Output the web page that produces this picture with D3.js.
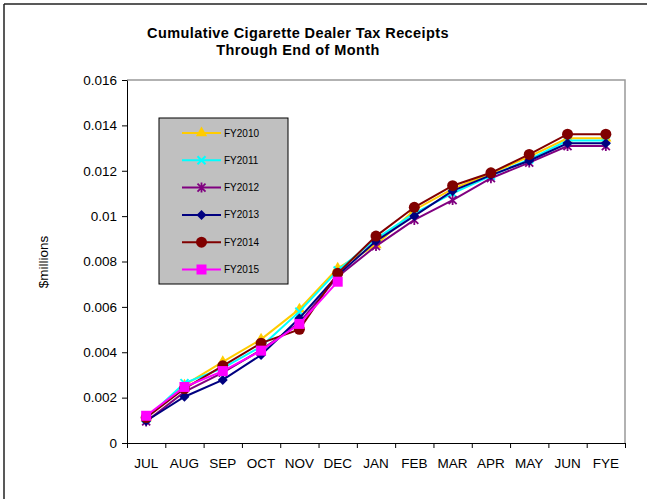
<!DOCTYPE html>
<html>
<head>
<meta charset="utf-8">
<script src="https://cdn.jsdelivr.net/npm/d3@7"></script>
<style>
  body { margin: 0; background: #fff; }
  text { font-family: Arial, "Liberation Sans", sans-serif; }
</style>
</head>
<body>
<script>
// values, $millions, cumulative
var months = ['JUL','AUG','SEP','OCT','NOV','DEC','JAN','FEB','MAR','APR','MAY','JUN','FYE'];
var yTicks = [0, 0.002, 0.004, 0.006, 0.008, 0.01, 0.012, 0.014, 0.016];
var yTickLabels = ['0','0.002','0.004','0.006','0.008','0.01','0.012','0.014','0.016'];

var fy2010 = [0.00110, 0.00255, 0.00358, 0.00457, 0.00590, 0.00770, 0.00873, 0.01027, 0.01120, 0.01188, 0.01262, 0.01343, 0.01343];
var fy2011 = [0.00108, 0.00264, 0.00330, 0.00425, 0.00579, 0.00760, 0.00900, 0.01012, 0.01100, 0.01178, 0.01250, 0.01333, 0.01333];
var fy2012 = [0.00095, 0.00225, 0.00310, 0.00410, 0.00530, 0.00733, 0.00868, 0.00983, 0.01071, 0.01167, 0.01236, 0.01309, 0.01309];
var fy2013 = [0.00097, 0.00204, 0.00278, 0.00388, 0.00550, 0.00740, 0.00890, 0.01001, 0.01111, 0.01181, 0.01244, 0.01321, 0.01321];
var fy2014 = [0.00112, 0.00240, 0.00340, 0.00440, 0.00501, 0.00748, 0.00912, 0.01039, 0.01134, 0.01191, 0.01272, 0.01361, 0.01361];
var fy2015 = [0.00120, 0.00247, 0.00317, 0.00407, 0.00525, 0.00711];

var series = [
  {name: 'FY2010', values: fy2010, color: '#FFCC00', marker: 'triangle'},
  {name: 'FY2011', values: fy2011, color: '#00FFFF', marker: 'cross'},
  {name: 'FY2012', values: fy2012, color: '#800080', marker: 'star'},
  {name: 'FY2013', values: fy2013, color: '#000080', marker: 'diamond'},
  {name: 'FY2014', values: fy2014, color: '#800000', marker: 'circle'},
  {name: 'FY2015', values: fy2015, color: '#FF00FF', marker: 'square'}
];

var W = 647, H = 499;
var plotL = 127, plotR = 625, plotT = 80, plotB = 443;

var svg = d3.select('body').append('svg')
  .attr('width', W).attr('height', H);

// outer frame (top and left visible)
svg.append('line').attr('x1', 4).attr('y1', 4).attr('x2', W).attr('y2', 4)
  .attr('stroke', '#222').attr('stroke-width', 1.5);
svg.append('line').attr('x1', 4).attr('y1', 4).attr('x2', 4).attr('y2', H)
  .attr('stroke', '#222').attr('stroke-width', 1.5);

var x = d3.scalePoint().domain(months).range([plotL, plotR]).padding(0.5);
var xEdge = d3.scaleLinear().domain([0, months.length]).range([plotL, plotR]);
var y = d3.scaleLinear().domain([0, 0.016]).range([plotB, plotT]);

// plot frame: gray top and right
svg.append('path')
  .attr('d', 'M' + plotL + ',' + plotT + 'H' + plotR + 'V' + plotB)
  .attr('fill', 'none').attr('stroke', '#999').attr('stroke-width', 1.5);

// y axis
var yAxis = svg.append('g').attr('transform', 'translate(' + plotL + ',0)')
  .call(d3.axisLeft(y).tickValues(yTicks).tickSize(5).tickSizeOuter(0)
    .tickFormat(function (d, i) { return yTickLabels[i]; }));
yAxis.selectAll('text').attr('font-size', 13.5).attr('fill', '#000').attr('dx', -2)
  .attr('font-family', 'Arial, "Liberation Sans", sans-serif');
yAxis.selectAll('line, path').attr('stroke', '#000');

// x axis: ticks on category edges, labels centred
var xAxis = svg.append('g').attr('transform', 'translate(0,' + plotB + ')')
  .call(d3.axisBottom(xEdge).ticks(months.length).tickSize(5).tickSizeOuter(0).tickFormat(''));
xAxis.selectAll('line, path').attr('stroke', '#000');

svg.append('g').selectAll('text').data(months).enter().append('text')
  .attr('x', function (d) { return x(d); })
  .attr('y', plotB + 25)
  .attr('text-anchor', 'middle')
  .attr('font-size', 13.5)
  .text(function (d) { return d; });

// titles
svg.append('text').attr('x', 298).attr('y', 38).attr('text-anchor', 'middle')
  .attr('font-size', 14.5).attr('font-weight', 'bold').attr('letter-spacing', 0.4)
  .text('Cumulative Cigarette Dealer Tax Receipts');
svg.append('text').attr('x', 298).attr('y', 55).attr('text-anchor', 'middle')
  .attr('font-size', 14.5).attr('font-weight', 'bold').attr('letter-spacing', 0.4)
  .text('Through End of Month');
svg.append('text').attr('transform', 'translate(48,262) rotate(-90)')
  .attr('text-anchor', 'middle').attr('font-size', 13.5)
  .text('$millions');

function drawMarker(g, type, color) {
  if (type === 'triangle') {
    g.append('path').attr('d', d3.symbol().type(d3.symbolTriangle).size(55)())
      .attr('fill', color);
  } else if (type === 'cross') {
    g.append('path').attr('d', 'M-4,-4L4,4M-4,4L4,-4')
      .attr('stroke', color).attr('stroke-width', 2).attr('fill', 'none');
  } else if (type === 'star') {
    g.append('path').attr('d', 'M-4,-4L4,4M-4,4L4,-4M0,-5V5')
      .attr('stroke', color).attr('stroke-width', 1.8).attr('fill', 'none');
  } else if (type === 'diamond') {
    g.append('path').attr('d', 'M0,-5L5,0L0,5L-5,0Z').attr('fill', color);
  } else if (type === 'circle') {
    g.append('circle').attr('r', 5.5).attr('fill', color);
  } else if (type === 'square') {
    g.append('rect').attr('x', -5).attr('y', -5).attr('width', 10).attr('height', 10)
      .attr('fill', color);
  }
}

var line = d3.line()
  .x(function (d, i) { return x(months[i]); })
  .y(function (d) { return y(d); });

series.forEach(function (s) {
  var g = svg.append('g');
  g.append('path').datum(s.values).attr('d', line)
    .attr('fill', 'none').attr('stroke', s.color).attr('stroke-width', 2);
  s.values.forEach(function (v, i) {
    var m = g.append('g').attr('transform', 'translate(' + x(months[i]) + ',' + y(v) + ')');
    drawMarker(m, s.marker, s.color);
  });
});

// legend
var legend = svg.append('g');
legend.append('rect').attr('x', 159).attr('y', 118).attr('width', 129).attr('height', 166)
  .attr('fill', '#C0C0C0').attr('stroke', '#000').attr('stroke-width', 1);
series.forEach(function (s, i) {
  var ly = 133 + i * 27.3;
  legend.append('line').attr('x1', 182).attr('x2', 221).attr('y1', ly).attr('y2', ly)
    .attr('stroke', s.color).attr('stroke-width', 2);
  var m = legend.append('g').attr('transform', 'translate(201.5,' + ly + ')');
  drawMarker(m, s.marker, s.color);
  legend.append('text').attr('x', 224).attr('y', ly + 3.5).attr('font-size', 10)
    .text(s.name);
});
</script>
</body>
</html>
